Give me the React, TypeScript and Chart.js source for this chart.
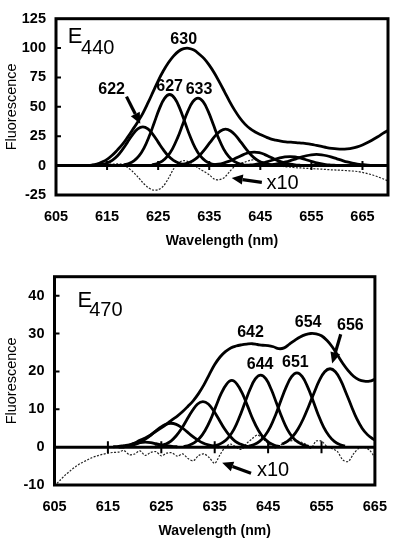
import React, { useEffect, useRef } from "react";
import { Chart, registerables } from "chart.js";

Chart.register(...registerables);

const FONT = "'Liberation Sans', Arial, Helvetica, sans-serif";

// ================= Top panel: E440 =================
const TOP_X_MIN = 605;
const TOP_X_MAX = 670;
const TOP_Y_MIN = -25;
const TOP_Y_MAX = 125;
const TOP_X_TICKS = [605, 615, 625, 635, 645, 655, 665];
const TOP_Y_TICKS = [-25, 0, 25, 50, 75, 100, 125];
const TOP_ZERO_TICKS = [615, 625, 635, 645, 655, 665];
const TOP_Y_MARKS = [25, 50, 75, 100];

// measured spectrum (bold envelope), 1 nm steps
const TOP_SPECTRUM_START = 610;
const TOP_SPECTRUM = [
  0, 0.1, 0.4, 1.3, 3.0, 5.3, 8.8, 13.2, 18.0, 24.0,
  30.5, 37.2, 44.5, 53.3, 62.7, 72.2, 80.5, 87.5, 93.2, 97.3,
  99.5, 99.8, 98.3, 95.0, 91.0, 85.5, 78.8, 71.0, 62.8, 54.5,
  47.0, 40.5, 35.3, 31.4, 28.6, 26.4, 24.5, 22.8, 21.7, 20.8,
  20.2, 19.9, 19.6, 19.2, 18.8, 18.1, 17.2, 16.3, 15.4, 14.7,
  14.2, 14.0, 14.2, 14.8, 16.0, 17.6, 19.6, 22.0, 24.6, 27.4, 30.0,
];

// fitted component bands, 1 nm steps from their start
const TOP_B622_START = 613;
const TOP_B622 = [0.4, 1.0, 2.2, 4.5, 8.2, 13.6, 20.0, 26.4, 31.2, 33.0, 31.2, 26.4, 20.0, 13.6, 8.2, 4.5, 2.2, 1.0, 0.4];
const TOP_B627_START = 618.25;
const TOP_B627 = [0.7, 1.8, 4.0, 8.2, 15.1, 24.9, 36.7, 48.5, 57.2, 60.5, 57.2, 48.5, 36.7, 24.9, 15.1, 8.2, 4.0, 1.8, 0.7];
const TOP_B633_START = 623.8;
const TOP_B633 = [0.6, 1.7, 3.8, 7.8, 14.3, 23.6, 34.9, 46.1, 54.4, 57.5, 54.4, 46.1, 34.9, 23.6, 14.3, 7.8, 3.8, 1.7, 0.6];
const TOP_B638_START = 629.2;
const TOP_B638 = [0.6, 1.4, 2.8, 5.3, 9.1, 14.2, 20.0, 25.5, 29.5, 31.0, 29.5, 25.5, 20.0, 14.2, 9.1, 5.3, 2.8, 1.4, 0.6];
const TOP_B644_START = 634.8;
const TOP_B644 = [0.3, 0.6, 1.2, 2.2, 3.6, 5.5, 7.6, 9.6, 11.0, 11.5, 11.0, 9.6, 7.6, 5.5, 3.6, 2.2, 1.2, 0.6, 0.3];
const TOP_B651_START = 641.8;
const TOP_B651 = [0.2, 0.5, 0.9, 1.6, 2.6, 3.9, 5.2, 6.5, 7.4, 7.7, 7.4, 6.5, 5.2, 3.9, 2.6, 1.6, 0.9, 0.5, 0.2];
const TOP_B656_START = 645;
const TOP_B656 = [0.2, 0.4, 0.8, 1.3, 2.1, 3.1, 4.4, 5.8, 7.2, 8.4, 9.2, 9.5, 9.2, 8.4, 7.2, 5.8, 4.4, 3.1, 2.1, 1.3, 0.8, 0.4, 0.2];

// residual x10 (dotted)
const TOP_RESID_START = 612;
const TOP_RESID = [
  1.0, 1.2, 1.5, 1.5, 1.2, 1.5, 1.0, -1.5,
  -5.0, -9.5, -14.5, -18.5, -20.8, -20.5, -17.5, -11.0, -3.0, 2.5,
  4.2, 3.2, 0.5, -2.5, -5.0, -7.8, -11.5, -12.0, -10.0, -5.0,
  -0.5, 1.8, 3.0, 4.5, 5.0, 3.5, 2.5, 1.0, 0.2, -0.5,
  -1.0, -1.3, -1.8, -2.0, -2.3, -2.5, -2.8, -3.0, -3.3, -3.6,
  -3.8, -4.0, -4.3, -4.6, -5.0, -5.8, -6.8, -8.0, -9.5, -11.2, -13.0,
];

// ================= Bottom panel: E470 =================
const BOT_X_MIN = 605;
const BOT_X_MAX = 665;
const BOT_Y_MIN = -10;
const BOT_Y_MAX = 45;
const BOT_X_TICKS = [605, 615, 625, 635, 645, 655, 665];
const BOT_Y_TICKS = [-10, 0, 10, 20, 30, 40];
const BOT_ZERO_TICKS = [615, 625, 635, 645, 655];
const BOT_Y_MARKS = [10, 20, 30, 40];

const BOT_SPECTRUM_START = 617;
const BOT_SPECTRUM = [
  0, 0.1, 0.5, 1.1, 1.8, 2.4, 3.2, 4.2, 5.1, 6.1,
  7.2, 8.2, 9.4, 10.8, 12.3, 14.2, 16.5, 19.2, 21.8, 23.8,
  25.2, 26.2, 26.7, 27.0, 27.2, 27.3, 27.1, 26.9, 26.8, 26.5,
  26.0, 26.2, 27.2, 28.2, 29.1, 29.7, 30.0, 29.9, 29.4, 28.2,
  26.5, 24.3, 22.1, 20.2, 18.7, 17.8, 17.4, 17.4, 17.9,
];

const BOT_B622_START = 616;
const BOT_B622 = [0.1, 0.2, 0.4, 0.6, 0.9, 1.2, 1.3, 1.2, 0.9, 0.6, 0.4, 0.2, 0.1];
const BOT_B627_START = 617.8;
const BOT_B627 = [0.1, 0.3, 0.6, 1.1, 1.9, 2.9, 4.1, 5.2, 6.0, 6.3, 6.0, 5.2, 4.1, 2.9, 1.9, 1.1, 0.6, 0.3, 0.1];
const BOT_B633_START = 623.8;
const BOT_B633 = [0.1, 0.3, 0.8, 1.6, 3.0, 4.9, 7.3, 9.6, 11.4, 12.0, 11.4, 9.6, 7.3, 4.9, 3.0, 1.6, 0.8, 0.3, 0.1];
const BOT_B638_START = 629.2;
const BOT_B638 = [0.2, 0.5, 1.2, 2.4, 4.4, 7.2, 10.7, 14.1, 16.6, 17.6, 16.6, 14.1, 10.7, 7.2, 4.4, 2.4, 1.2, 0.5, 0.2];
const BOT_B644_START = 634.6;
const BOT_B644 = [0.2, 0.6, 1.3, 2.6, 4.7, 7.8, 11.5, 15.2, 18.0, 19.0, 18.0, 15.2, 11.5, 7.8, 4.7, 2.6, 1.3, 0.6, 0.2];
const BOT_B651_START = 641.4;
const BOT_B651 = [0.3, 0.7, 1.5, 3.0, 5.3, 8.5, 12.3, 15.9, 18.6, 19.6, 18.6, 15.9, 12.3, 8.5, 5.3, 3.0, 1.5, 0.7, 0.3];
const BOT_B656_START = 647.6;
const BOT_B656 = [0.8, 1.5, 2.8, 4.8, 7.5, 10.8, 14.3, 17.6, 19.9, 20.7, 19.9, 17.6, 14.3, 10.8, 7.5, 5.0, 3.3, 2.2, 1.4];

const BOT_RESID_START = 605;
const BOT_RESID = [
  -10.2, -8.8, -7.4, -6.2, -5.1, -4.2, -3.5, -2.8, -2.3, -1.9,
  -1.6, -1.4, -1.3, -0.9, -2.0, -1.8, -1.0, -2.2, -1.4, -1.2,
  -2.3, -1.6, -1.5, -2.4, -1.8, -3.0, -3.6, -2.2, -1.8, -2.8,
  -4.3, -2.0, 0.0, 0.8, 0.0, -0.6, 1.0, 2.2, 3.2, 2.2,
  1.0, -0.2, 0.2, 1.2, 1.6, 1.7, 1.4, 0.8, -0.3, 1.6,
  1.6, 0.2, -0.4, -1.2, -3.4, -3.8, -1.8, -0.3, -0.1, -0.8, -2.8,
];

// ================= annotations (data coordinates) =================
type Label = { text: string; x: number; y: number };
type Arrow = { from: [number, number]; to: [number, number] };
type Sub = { main: string; sub: string; x: number; y: number; subX: number; subY: number };

const TOP_LABELS: Label[] = [
  { text: "630", x: 630.0, y: 107 },
  { text: "627", x: 627.25, y: 67.1 },
  { text: "633", x: 633.0, y: 64.7 },
  { text: "622", x: 615.9, y: 64.3 },
];
const TOP_ARROWS: Arrow[] = [
  { from: [618.8, 58.7], to: [621.5, 35.6] },
  { from: [645.3, -14.3], to: [639.4, -10.5] },
];
const TOP_X10 = { text: "x10", x: 646.2, y: -15.5 };
const TOP_TAG: Sub = { main: "E", sub: "440", x: 607.3, y: 104, subX: 609.9, subY: 94.7 };

const BOT_LABELS: Label[] = [
  { text: "642", x: 641.7, y: 30.2 },
  { text: "654", x: 652.5, y: 32.9 },
  { text: "656", x: 660.4, y: 32.1 },
  { text: "644", x: 643.5, y: 21.7 },
  { text: "651", x: 650.1, y: 22.3 },
];
const BOT_ARROWS: Arrow[] = [
  { from: [658.6, 29.8], to: [657.0, 22.1] },
  { from: [641.8, -6.9], to: [636.4, -4.1] },
];
const BOT_X10 = { text: "x10", x: 642.9, y: -6.2 };
const BOT_TAG: Sub = { main: "E", sub: "470", x: 609.3, y: 37.1, subX: 611.5, subY: 34.5 };

// ================= helpers =================
const pts = (start: number, values: number[]) => values.map((y, i) => ({ x: start + i, y }));

const bandDs = (start: number, values: number[]) => ({
  data: pts(start, values),
  borderColor: "#000",
  borderWidth: 2.8,
  pointRadius: 0,
  tension: 0.4,
  fill: false,
});

const residDs = (start: number, values: number[]) => ({
  data: pts(start, values),
  borderColor: "#222",
  borderWidth: 1.2,
  borderDash: [2, 1.5],
  pointRadius: 0,
  tension: 0.3,
  fill: false,
});

type Decor = {
  zeroTicks: number[];
  yMarks: number[];
  labels: Label[];
  arrows: Arrow[];
  x10: Label;
  tag: Sub;
  tickHalf: number;
};

function decorPlugin(d: Decor) {
  return {
    id: "decor",
    afterDatasetsDraw(chart: any) {
      const { ctx, chartArea: a, scales } = chart;
      const xs = scales.x;
      const ys = scales.y;
      const X = (v: number) => xs.getPixelForValue(v);
      const Y = (v: number) => ys.getPixelForValue(v);
      ctx.save();
      ctx.strokeStyle = "#000";
      ctx.fillStyle = "#000";
      ctx.lineCap = "butt";
      // zero line
      const y0 = Y(0);
      ctx.lineWidth = 3;
      ctx.beginPath();
      ctx.moveTo(a.left, y0);
      ctx.lineTo(a.right, y0);
      ctx.stroke();
      // ticks on zero line
      ctx.lineWidth = 2;
      ctx.beginPath();
      d.zeroTicks.forEach((v) => {
        const px = X(v);
        ctx.moveTo(px, y0 - d.tickHalf);
        ctx.lineTo(px, y0 + d.tickHalf);
      });
      // inward y ticks
      d.yMarks.forEach((v) => {
        const py = Y(v);
        ctx.moveTo(a.left, py);
        ctx.lineTo(a.left + 5, py);
      });
      ctx.stroke();
      // frame
      ctx.lineWidth = 3;
      ctx.strokeRect(a.left, a.top, a.right - a.left, a.bottom - a.top);
      // peak labels
      ctx.font = `bold 16px ${FONT}`;
      ctx.textAlign = "center";
      ctx.textBaseline = "middle";
      d.labels.forEach((l) => ctx.fillText(l.text, X(l.x), Y(l.y)));
      // x10
      ctx.font = `20px ${FONT}`;
      ctx.textAlign = "left";
      ctx.fillText(d.x10.text, X(d.x10.x), Y(d.x10.y));
      // arrows
      d.arrows.forEach((ar) => {
        const x1 = X(ar.from[0]);
        const y1 = Y(ar.from[1]);
        const x2 = X(ar.to[0]);
        const y2 = Y(ar.to[1]);
        const ang = Math.atan2(y2 - y1, x2 - x1);
        const head = 11;
        const half = 5;
        const bx = x2 - head * Math.cos(ang);
        const by = y2 - head * Math.sin(ang);
        ctx.lineWidth = 3.2;
        ctx.beginPath();
        ctx.moveTo(x1, y1);
        ctx.lineTo(bx, by);
        ctx.stroke();
        ctx.beginPath();
        ctx.moveTo(x2, y2);
        ctx.lineTo(bx + half * Math.sin(ang), by - half * Math.cos(ang));
        ctx.lineTo(bx - half * Math.sin(ang), by + half * Math.cos(ang));
        ctx.closePath();
        ctx.fill();
      });
      // panel tag with subscript
      ctx.textBaseline = "alphabetic";
      ctx.textAlign = "left";
      ctx.font = `22px ${FONT}`;
      ctx.fillText(d.tag.main, X(d.tag.x), Y(d.tag.y));
      ctx.font = `20px ${FONT}`;
      ctx.fillText(d.tag.sub, X(d.tag.subX), Y(d.tag.subY));
      ctx.restore();
    },
  };
}

type PanelSpec = {
  height: number;
  padTop: number;
  padRight: number;
  yWidth: number;
  xHeight: number;
  titleBottom: number;
  xMin: number;
  xMax: number;
  yMin: number;
  yMax: number;
  xTicks: number[];
  yTicks: number[];
  datasets: any[];
  decor: Decor;
};

function buildChart(canvas: HTMLCanvasElement, s: PanelSpec) {
  const tickFont = { family: FONT, size: 14.5, weight: "bold" as const };
  return new Chart(canvas, {
    type: "line",
    data: { datasets: s.datasets },
    options: {
      animation: false,
      responsive: false,
      maintainAspectRatio: false,
      devicePixelRatio: 1,
      layout: { padding: { top: s.padTop, right: s.padRight, left: 0, bottom: 0 } },
      plugins: { legend: { display: false }, tooltip: { enabled: false } },
      events: [],
      scales: {
        x: {
          type: "linear",
          min: s.xMin,
          max: s.xMax,
          grid: { display: false, drawTicks: false },
          border: { display: false },
          afterBuildTicks: (axis: any) => {
            axis.ticks = s.xTicks.map((v) => ({ value: v }));
          },
          afterFit: (axis: any) => {
            axis.height = s.xHeight;
          },
          ticks: { color: "#000", font: tickFont, padding: 13, maxRotation: 0, autoSkip: false },
          title: {
            display: true,
            text: "Wavelength (nm)",
            color: "#000",
            font: { family: FONT, size: 14, weight: "bold" },
            padding: { top: 0, bottom: s.titleBottom },
          },
        },
        y: {
          type: "linear",
          min: s.yMin,
          max: s.yMax,
          grid: { display: false, drawTicks: false },
          border: { display: false },
          afterBuildTicks: (axis: any) => {
            axis.ticks = s.yTicks.map((v) => ({ value: v }));
          },
          afterFit: (axis: any) => {
            axis.width = s.yWidth;
          },
          ticks: { color: "#000", font: tickFont, padding: 10 },
          title: {
            display: true,
            text: "Fluorescence",
            color: "#000",
            font: { family: FONT, size: 14.5, weight: "normal" },
            padding: { top: 3, bottom: 0 },
          },
        },
      },
    },
    plugins: [decorPlugin(s.decor)],
  } as any);
}

const TOP_SPEC: PanelSpec = {
  height: 258,
  padTop: 7,
  padRight: 12,
  yWidth: 56,
  xHeight: 63,
  titleBottom: 8.6,
  xMin: TOP_X_MIN,
  xMax: TOP_X_MAX,
  yMin: TOP_Y_MIN,
  yMax: TOP_Y_MAX,
  xTicks: TOP_X_TICKS,
  yTicks: TOP_Y_TICKS,
  datasets: [
    bandDs(TOP_B622_START, TOP_B622),
    bandDs(TOP_B627_START, TOP_B627),
    bandDs(TOP_B633_START, TOP_B633),
    bandDs(TOP_B638_START, TOP_B638),
    bandDs(TOP_B644_START, TOP_B644),
    bandDs(TOP_B651_START, TOP_B651),
    bandDs(TOP_B656_START, TOP_B656),
    bandDs(TOP_SPECTRUM_START, TOP_SPECTRUM),
    residDs(TOP_RESID_START, TOP_RESID),
  ],
  decor: {
    zeroTicks: TOP_ZERO_TICKS,
    yMarks: TOP_Y_MARKS,
    labels: TOP_LABELS,
    arrows: TOP_ARROWS,
    x10: TOP_X10,
    tag: TOP_TAG,
    tickHalf: 4.5,
  },
};

const BOT_SPEC: PanelSpec = {
  height: 283,
  padTop: 11,
  padRight: 13,
  yWidth: 54.5,
  xHeight: 56,
  titleBottom: 1.6,
  xMin: BOT_X_MIN,
  xMax: BOT_X_MAX,
  yMin: BOT_Y_MIN,
  yMax: BOT_Y_MAX,
  xTicks: BOT_X_TICKS,
  yTicks: BOT_Y_TICKS,
  datasets: [
    bandDs(BOT_B622_START, BOT_B622),
    bandDs(BOT_B627_START, BOT_B627),
    bandDs(BOT_B633_START, BOT_B633),
    bandDs(BOT_B638_START, BOT_B638),
    bandDs(BOT_B644_START, BOT_B644),
    bandDs(BOT_B651_START, BOT_B651),
    bandDs(BOT_B656_START, BOT_B656),
    bandDs(BOT_SPECTRUM_START, BOT_SPECTRUM),
    residDs(BOT_RESID_START, BOT_RESID),
  ],
  decor: {
    zeroTicks: BOT_ZERO_TICKS,
    yMarks: BOT_Y_MARKS,
    labels: BOT_LABELS,
    arrows: BOT_ARROWS,
    x10: BOT_X10,
    tag: BOT_TAG,
    tickHalf: 6,
  },
};

export default function App() {
  const topRef = useRef<HTMLCanvasElement | null>(null);
  const botRef = useRef<HTMLCanvasElement | null>(null);

  useEffect(() => {
    const charts: Chart[] = [];
    if (topRef.current) charts.push(buildChart(topRef.current, TOP_SPEC));
    if (botRef.current) charts.push(buildChart(botRef.current, BOT_SPEC));
    return () => charts.forEach((c) => c.destroy());
  }, []);

  return (
    <div style={{ position: "fixed", left: 0, top: 0, width: 400, height: 541, background: "#fff" }}>
      <canvas
        ref={topRef}
        width={400}
        height={TOP_SPEC.height}
        style={{ position: "absolute", left: 0, top: 0, width: 400, height: TOP_SPEC.height }}
      />
      <canvas
        ref={botRef}
        width={400}
        height={BOT_SPEC.height}
        style={{ position: "absolute", left: 0, top: TOP_SPEC.height, width: 400, height: BOT_SPEC.height }}
      />
    </div>
  );
}
